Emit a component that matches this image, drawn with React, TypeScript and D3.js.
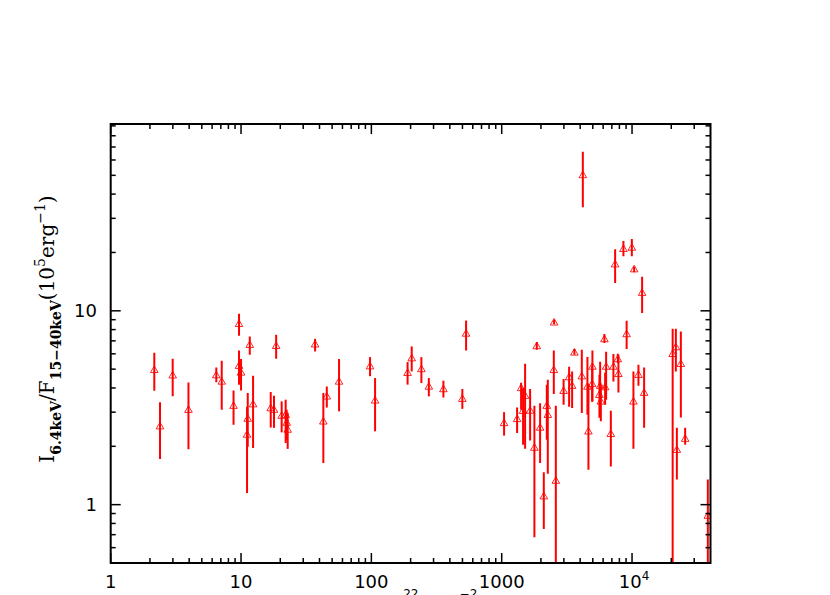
import React from "react";
import * as d3 from "d3";

// N_H values (x, units of 10^22 cm^-2)
const nh = [2.16, 2.39, 2.99, 3.95, 6.46, 7.11, 8.76, 9.65, 9.65, 10.0, 11.26, 11.12, 11.67, 12.37, 16.9, 17.9, 18.6, 20.5, 22.0, 22.4, 22.8, 37.0, 42.8, 45.5, 56.5, 97.7, 106.8, 189.6, 204, 242, 276, 357, 499, 533, 1043, 1313, 1409, 1459, 1512, 1652, 1782, 1859, 1971, 2104, 2219, 2258, 2511, 2525, 2602, 2985, 3291, 3470, 3613, 4118, 4193, 4547, 4629, 4966, 4943, 5622, 5763, 5692, 6140, 6328, 6217, 6877, 7197, 7780, 7864, 7418, 8590, 9091, 9966, 10250, 10380, 11200, 11950, 12380, 20500, 21690, 22080, 23690, 25560, 38160];
// I_6.4keV / F_15-40keV ratio (y)
const ratio = [4.96, 2.54, 4.65, 3.09, 4.66, 4.32, 3.24, 8.57, 5.21, 4.81, 2.78, 2.30, 6.68, 3.30, 3.15, 3.09, 6.60, 2.88, 2.91, 2.65, 2.44, 6.72, 2.69, 3.62, 4.32, 5.18, 3.45, 4.79, 5.70, 5.01, 4.07, 3.95, 3.52, 7.64, 2.64, 2.77, 4.00, 3.05, 3.65, 3.06, 1.97, 6.58, 2.50, 1.106, 3.24, 2.91, 4.96, 8.72, 1.33, 3.87, 4.55, 4.11, 6.10, 4.60, 50.2, 4.07, 2.39, 5.16, 4.20, 3.69, 3.41, 4.11, 7.15, 5.16, 4.04, 2.32, 5.16, 5.64, 4.73, 17.4, 20.9, 7.59, 21.2, 3.41, 16.4, 4.68, 12.4, 3.78, 6.00, 6.50, 1.92, 5.33, 2.19, 0.878];
// upper end of error bar
const ratioHi = [6.07, 3.38, 5.66, 4.27, 5.10, 5.52, 3.88, 9.65, 6.24, 5.64, 3.77, 3.20, 7.37, 4.62, 3.81, 3.65, 7.52, 3.41, 3.48, 3.09, 2.98, 7.17, 3.77, 4.07, 5.64, 5.77, 4.50, 5.44, 6.55, 5.77, 4.50, 4.36, 3.95, 8.91, 3.00, 3.17, 4.25, 4.01, 5.33, 3.95, 3.24, 6.90, 3.34, 1.47, 4.16, 4.41, 6.24, 8.99, 3.24, 4.45, 5.14, 4.87, 6.35, 6.30, 66.2, 5.77, 4.16, 6.24, 5.21, 4.68, 4.16, 5.46, 7.59, 6.15, 4.79, 3.05, 5.98, 6.00, 5.93, 20.8, 22.9, 8.88, 23.5, 4.87, 16.9, 5.27, 15.0, 5.10, 8.08, 8.08, 2.49, 7.82, 2.49, 1.35];
// lower end of error bar
const ratioLo = [3.87, 1.72, 3.62, 1.93, 4.28, 3.09, 2.58, 7.43, 4.16, 3.88, 1.99, 1.15, 5.93, 1.96, 2.50, 2.49, 5.66, 2.36, 2.08, 2.16, 1.94, 6.17, 1.64, 3.17, 3.03, 4.60, 2.39, 4.16, 4.87, 4.24, 3.62, 3.57, 3.12, 6.24, 2.27, 2.34, 3.09, 2.04, 1.94, 2.14, 0.678, 6.30, 1.64, 0.749, 2.16, 1.445, 3.72, 8.52, 0.3, 3.28, 3.20, 3.15, 5.93, 2.97, 34.2, 2.91, 1.515, 3.41, 3.40, 2.81, 2.69, 3.09, 6.82, 3.48, 3.28, 1.575, 4.32, 5.38, 3.79, 13.9, 19.1, 6.35, 19.1, 1.94, 15.8, 4.11, 9.73, 2.49, 0.3, 4.87, 1.35, 2.82, 2.04, 0.3];

const xMajorTicks = [1, 10, 100, 1000, 10000];
const xTickLabels = ["1", "10", "100", "1000", "10^4"];
const yMajorTicks = [1, 10];
const yTickLabels = ["1", "10"];

const X_DOMAIN = [1, 40000];
const Y_DOMAIN = [0.5, 92];

export default function App() {
  const W = 830, H = 595;
  const left = 110.7, right = 710.5, top = 124, bottom = 563;
  const x = d3.scaleLog().domain(X_DOMAIN).range([left, right]);
  const y = d3.scaleLog().domain(Y_DOMAIN).range([bottom, top]);

  const xMinor: number[] = [];
  for (let d = 0; d <= 4; d++) for (let k = 2; k <= 9; k++) {
    const v = k * Math.pow(10, d);
    if (v < X_DOMAIN[1]) xMinor.push(v);
  }
  const yMinor: number[] = [];
  for (let d = -1; d <= 1; d++) for (let k = 2; k <= 9; k++) {
    const v = k * Math.pow(10, d);
    if (v >= Y_DOMAIN[0] && v <= Y_DOMAIN[1]) yMinor.push(v);
  }

  const red = "#ff0000";
  const maj = 10, mnr = 5;
  const tri = "M0,-3.9L3.8,2.7L-3.8,2.7Z";

  return (
    <svg width={W} height={H} style={{ position: "absolute", left: 0, top: 0, background: "#fff" }}>
      <defs>
        <clipPath id="plotclip">
          <rect x={left} y={top} width={right - left} height={bottom - top} />
        </clipPath>
      </defs>
      <rect x={0} y={0} width={W} height={H} fill="#fff" />

      {/* data */}
      <g clipPath="url(#plotclip)">
        {nh.map((v, i) => (
          <line key={"e" + i} x1={x(v)} x2={x(v)} y1={y(ratioHi[i])} y2={y(ratioLo[i])} stroke={red} strokeWidth={2} />
        ))}
        {nh.map((v, i) => (
          <path key={"t" + i} d={tri} transform={`translate(${x(v)},${y(ratio[i])})`} fill="none" stroke={red} strokeWidth={1} strokeOpacity={0.85} />
        ))}
      </g>

      {/* ticks */}
      <g stroke="#000" strokeWidth={1.5}>
        {xMinor.map((v) => (
          <g key={"xm" + v}>
            <line x1={x(v)} x2={x(v)} y1={bottom} y2={bottom - mnr} />
            <line x1={x(v)} x2={x(v)} y1={top} y2={top + mnr} />
          </g>
        ))}
        {xMajorTicks.map((v) => (
          <g key={"xM" + v}>
            <line x1={x(v)} x2={x(v)} y1={bottom} y2={bottom - maj} />
            <line x1={x(v)} x2={x(v)} y1={top} y2={top + maj} />
          </g>
        ))}
        {yMinor.map((v) => (
          <g key={"ym" + v}>
            <line x1={left} x2={left + mnr} y1={y(v)} y2={y(v)} />
            <line x1={right} x2={right - mnr} y1={y(v)} y2={y(v)} />
          </g>
        ))}
        {yMajorTicks.map((v) => (
          <g key={"yM" + v}>
            <line x1={left} x2={left + maj} y1={y(v)} y2={y(v)} />
            <line x1={right} x2={right - maj} y1={y(v)} y2={y(v)} />
          </g>
        ))}
      </g>
      <rect x={left} y={top} width={right - left} height={bottom - top} fill="none" stroke="#000" strokeWidth={2} />

      {/* tick labels */}
      <g fontFamily="DejaVu Sans" fontSize={18} fill="#000">
        {xMajorTicks.map((v, i) => {
          const lab = xTickLabels[i];
          if (lab.includes("^")) {
            const [b, e] = lab.split("^");
            return (
              <text key={"xl" + v} x={x(v) + 2} y={588} textAnchor="middle">
                {b}
                <tspan fontSize={12} dy={-8}>{e}</tspan>
              </text>
            );
          }
          return (
            <text key={"xl" + v} x={x(v)} y={588} textAnchor="middle">{lab}</text>
          );
        })}
        {yMajorTicks.map((v, i) => (
          <text key={"yl" + v} x={97} y={y(v) + 6.5} textAnchor="end">{yTickLabels[i]}</text>
        ))}
      </g>

      {/* y title */}
      <text transform="translate(54,329) rotate(-90)" textAnchor="middle" fontFamily="DejaVu Serif" fontSize={20} fill="#000">
        I<tspan fontSize={14} dy={7} fontWeight="bold">6.4keV</tspan>
        <tspan dy={-7}>/F</tspan>
        <tspan fontSize={14} dy={7} fontWeight="bold">15−40keV</tspan>
        <tspan dy={-7}>(10</tspan>
        <tspan fontSize={14} dy={-9}>5</tspan>
        <tspan dy={9}>erg</tspan>
        <tspan fontSize={14} dy={-9}>−1</tspan>
        <tspan dy={9}>)</tspan>
      </text>

      {/* x title (mostly below the visible area, as in the reference) */}
      <text x={345} y={611} fontFamily="DejaVu Sans" fontSize={18} fill="#000">
        N<tspan fontSize={12} dy={5}>H</tspan>
        <tspan dy={-5}> (10</tspan>
        <tspan fontSize={12} dy={-13}>22</tspan>
        <tspan dy={13} dx={6}> cm</tspan>
        <tspan fontSize={12} dy={-13} dx={2}>−2</tspan>
        <tspan dy={13}>)</tspan>
      </text>
    </svg>
  );
}
